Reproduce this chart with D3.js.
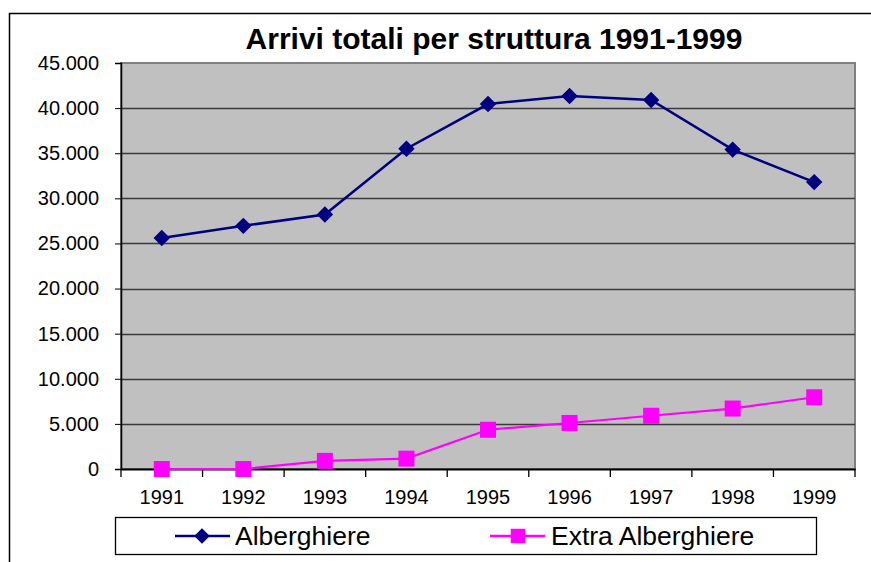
<!DOCTYPE html>
<html>
<head>
<meta charset="utf-8">
<script src="https://cdn.jsdelivr.net/npm/d3@7"></script>
<style>
  body { margin: 0; background: #fff; }
  svg { display: block; font-family: "Liberation Sans", Arial, sans-serif; }
</style>
</head>
<body>
<div id="chart"></div>
<script>
// Chart data
const years = ["1991", "1992", "1993", "1994", "1995", "1996", "1997", "1998", "1999"];
const alberghiere = [25600, 26950, 28200, 35500, 40450, 41350, 40900, 35400, 31800];
const extraAlberghiere = [0, 0, 900, 1150, 4350, 5100, 5900, 6700, 7950];
const yTicks = [0, 5000, 10000, 15000, 20000, 25000, 30000, 35000, 40000, 45000];
const seriesNames = ["Alberghiere", "Extra Alberghiere"];

const width = 871;
const height = 562;
const plot = { left: 121, top: 63, right: 855, bottom: 469 };

const svg = d3.select("#chart")
    .append("svg")
    .attr("width", width)
    .attr("height", height);

// Outer chart border
svg.append("rect")
    .attr("x", 9.5).attr("y", 13.5)
    .attr("width", 870).attr("height", 560)
    .attr("fill", "none")
    .attr("stroke", "#000")
    .attr("stroke-width", 1.5);

// Title
svg.append("text")
    .attr("x", 494).attr("y", 49)
    .attr("text-anchor", "middle")
    .attr("font-size", 30)
    .attr("font-weight", "bold")
    .text("Arrivi totali per struttura 1991-1999");

// Scales
const x = d3.scaleBand().domain(years).range([plot.left, plot.right]);
const y = d3.scaleLinear().domain([0, 45000]).range([plot.bottom, plot.top]);
const fmt = d3.formatLocale({ decimal: ",", thousands: ".", grouping: [3], currency: ["", "€"] }).format(",");

// Plot background
svg.append("rect")
    .attr("x", plot.left).attr("y", plot.top)
    .attr("width", plot.right - plot.left)
    .attr("height", plot.bottom - plot.top)
    .attr("fill", "#c0c0c0")
    .attr("stroke", "#808080")
    .attr("stroke-width", 2);

// Gridlines
svg.append("g")
    .selectAll("line")
    .data(yTicks.filter(d => d > 0 && d < 45000))
    .enter()
    .append("line")
    .attr("x1", plot.left).attr("x2", plot.right)
    .attr("y1", d => Math.round(y(d)) + 0.5)
    .attr("y2", d => Math.round(y(d)) + 0.5)
    .attr("stroke", "#3a3a3a")
    .attr("stroke-width", 1.3);

// Y axis
const yAxis = svg.append("g")
    .attr("transform", `translate(${plot.left},0)`)
    .call(d3.axisLeft(y).tickValues(yTicks).tickFormat(fmt).tickSize(6).tickPadding(16));
yAxis.select(".domain").attr("stroke", "#000").attr("stroke-width", 1.5);
yAxis.selectAll(".tick line").attr("stroke", "#000");
yAxis.selectAll("text").attr("font-size", 20).attr("fill", "#000")
    .attr("font-family", "Liberation Sans, Arial, sans-serif");

// X axis
const xAxis = svg.append("g")
    .attr("transform", `translate(0,${plot.bottom})`)
    .call(d3.axisBottom(x).tickSize(0).tickPadding(21));
xAxis.select(".domain").attr("stroke", "#000").attr("stroke-width", 2);
xAxis.selectAll("text").attr("font-size", 20).attr("fill", "#000")
    .attr("font-family", "Liberation Sans, Arial, sans-serif");
// category separators
xAxis.selectAll(".sep")
    .data(years.concat(["end"]))
    .enter()
    .append("line")
    .attr("x1", (d, i) => plot.left + i * x.step())
    .attr("x2", (d, i) => plot.left + i * x.step())
    .attr("y1", 0).attr("y2", 8)
    .attr("stroke", "#000")
    .attr("stroke-width", 1.3);

const cx = d => x(d) + x.bandwidth() / 2;
const line = d3.line().x(d => cx(d.year)).y(d => y(d.value));

const seriesA = years.map((yr, i) => ({ year: yr, value: alberghiere[i] }));
const seriesB = years.map((yr, i) => ({ year: yr, value: extraAlberghiere[i] }));

const navy = "#000080";
const magenta = "#ff00ff";

// Extra Alberghiere
svg.append("path")
    .datum(seriesB)
    .attr("d", line)
    .attr("fill", "none")
    .attr("stroke", magenta)
    .attr("stroke-width", 2.2);
svg.selectAll(".sq")
    .data(seriesB)
    .enter()
    .append("rect")
    .attr("x", d => cx(d.year) - 8)
    .attr("y", d => y(d.value) - 8)
    .attr("width", 16).attr("height", 16)
    .attr("fill", magenta);

// Alberghiere
svg.append("path")
    .datum(seriesA)
    .attr("d", line)
    .attr("fill", "none")
    .attr("stroke", navy)
    .attr("stroke-width", 2.5);
const diamond = d3.symbol().type(d3.symbolSquare).size(135);
svg.selectAll(".dm")
    .data(seriesA)
    .enter()
    .append("path")
    .attr("d", diamond)
    .attr("transform", d => `translate(${cx(d.year)},${y(d.value)}) rotate(45)`)
    .attr("fill", navy);

// Legend
const legend = svg.append("g");
legend.append("rect")
    .attr("x", 115.5).attr("y", 517.5)
    .attr("width", 701).attr("height", 37)
    .attr("fill", "#fff")
    .attr("stroke", "#000")
    .attr("stroke-width", 1.3);

const legendItems = [
    { name: seriesNames[0], color: navy, x0: 175, type: "diamond" },
    { name: seriesNames[1], color: magenta, x0: 490, type: "square" }
];
const items = legend.selectAll(".item")
    .data(legendItems)
    .enter()
    .append("g")
    .attr("transform", d => `translate(${d.x0},536)`);
items.append("line")
    .attr("x1", 0).attr("x2", 55)
    .attr("stroke", d => d.color)
    .attr("stroke-width", 2.5);
items.append("path")
    .attr("d", d => d.type === "diamond"
        ? d3.symbol().type(d3.symbolSquare).size(120)()
        : d3.symbol().type(d3.symbolSquare).size(210)())
    .attr("transform", d => d.type === "diamond" ? "translate(27,0) rotate(45)" : "translate(28,0)")
    .attr("fill", d => d.color);
items.append("text")
    .attr("x", d => d.type === "diamond" ? 60 : 61)
    .attr("y", 9)
    .attr("font-size", 26.5)
    .attr("fill", "#000")
    .text(d => d.name);
</script>
</body>
</html>
